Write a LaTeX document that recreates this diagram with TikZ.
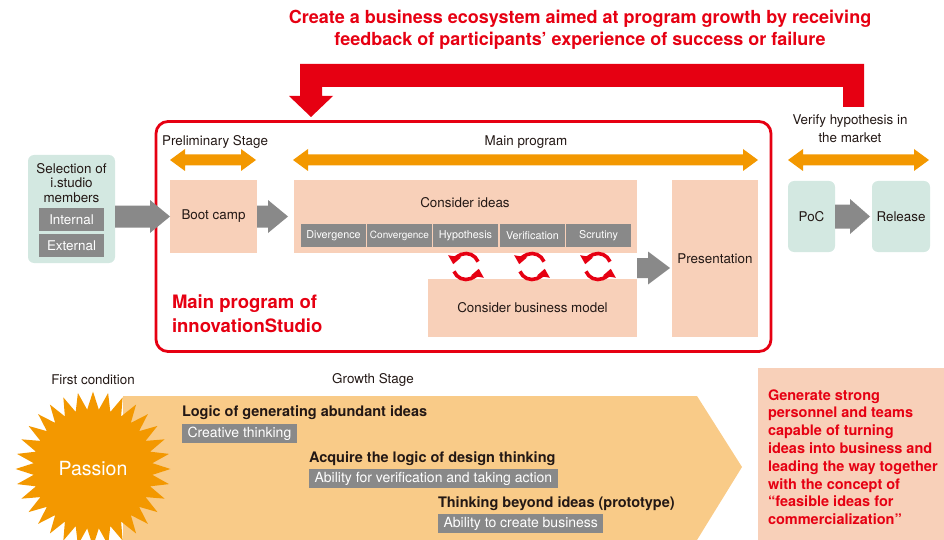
\documentclass[tikz,border=0pt]{standalone}
\usepackage{fontspec}
\setmainfont{TeX Gyre Heros}
\usetikzlibrary{arrows.meta,calc,shapes.geometric}
\definecolor{ired}{HTML}{E60012}
\definecolor{iorange}{HTML}{F39800}
\definecolor{lorange}{HTML}{F9CB88}
\definecolor{salmon}{HTML}{F8D0B9}
\definecolor{iteal}{HTML}{D3E8E1}
\definecolor{agray}{HTML}{898989}
\definecolor{txt}{HTML}{231815}
\newcommand\fs[2]{\fontsize{#1}{#2}\selectfont}
\newcommand\garrow[5]{\fill[agray] let \p1=(#1), \p2=(#2) in
  (\x1,\y2+#3) -- (\x2-#5,\y2+#3) -- (\x2-#5,\y2+#4) -- (\x2,\y2) --
  (\x2-#5,\y2-#4) -- (\x2-#5,\y2-#3) -- (\x1,\y2-#3) -- cycle;}
\newcommand\dblarrow[3]{\fill[iorange] (#1,#3) -- (#1+15,#3-11) -- (#1+15,#3-5.5) --
  (#2-15,#3-5.5) -- (#2-15,#3-11) -- (#2,#3) -- (#2-15,#3+11) -- (#2-15,#3+5.5) --
  (#1+15,#3+5.5) -- (#1+15,#3+11) -- cycle;}
\begin{document}
\begin{tikzpicture}[x=1pt,y=-1pt,
  every node/.style={inner sep=0pt,outer sep=0pt,text=txt,font=\fs{13.4}{16}},
  sbox/.style={fill=salmon},
  tbox/.style={fill=iteal,rounded corners=6pt},
  stagebox/.style={fill=agray,minimum width=65pt,minimum height=23pt,text=white,font=\fs{10.8}{12}},
  selbox/.style={fill=agray,minimum width=65pt,minimum height=23pt,text=white,font=\fs{13.4}{15}},
  glabel/.style={fill=agray,text=white,font=\fs{14}{15},inner xsep=5.5pt,minimum height=19pt,anchor=west},
  head/.style={font=\bfseries\fs{14.5}{16},anchor=west},
  cycline/.style={draw=ired,line width=3.6pt,-{Triangle[width=12.5pt,length=8pt]}}]
\useasboundingbox (0,0) rectangle (944,540);

% title
\node[text=ired,font=\bfseries\fs{18}{22},align=center] (title) at (580,30)
  {Create a business ecosystem aimed at program growth by receiving\\feedback of participants’ experience of success or failure};

% feedback arrow
\fill[ired] (843,107) -- (843,87) -- (322,87) -- (322,96) -- (333,96) -- (311,117)
  -- (289,96) -- (300,96) -- (300,64) -- (864,64) -- (864,107) -- cycle;

% main program frame
\node[draw=ired,line width=2.8pt,rounded corners=12pt,minimum width=615pt,minimum height=230pt] (main) at (463.5,236.5) {};

% stage labels and spans
\node (prelim) at (215,142) {Preliminary Stage};
\node (mainprog) at (526,142) {Main program};
\node[align=center,font=\fs{13.4}{18}] (verify) at (850,129) {Verify hypothesis in\\the market};
\dblarrow{170}{256}{160}
\dblarrow{293}{758}{160}
\dblarrow{788}{929}{160}

% selection
\node[tbox,minimum width=87pt,minimum height=108pt] (sel) at (71.5,209) {};
\node[align=center,font=\fs{13.4}{14.5}] (seltxt) at (71.5,183) {Selection of\\i.studio\\members};
\node[selbox] (internal) at (71.5,219.5) {Internal};
\node[selbox] (external) at (71.5,245.5) {External};

% boxes
\node[sbox,minimum width=87pt,minimum height=73pt] (boot) at (213.5,216.5) {Boot camp};
\node[sbox,minimum width=343pt,minimum height=73pt] (ideas) at (465.5,216.5) {};
\node (ideastxt) at (465,203) {Consider ideas};
\node[stagebox] (div) at (333.5,235.5) {Divergence};
\node[stagebox,font=\fs{10}{12}] (conv) at (399.5,235.5) {Convergence};
\node[stagebox] (hyp) at (465.5,235.5) {Hypothesis};
\node[stagebox] (ver) at (532.5,235.5) {Verification};
\node[stagebox] (scr) at (598.5,235.5) {Scrutiny};
\node[sbox,minimum width=209pt,minimum height=58pt] (bm) at (532.5,308) {Consider business model};
\node[sbox,minimum width=86pt,minimum height=157pt] (pres) at (715,258.5) {Presentation};
\node[tbox,minimum width=47pt,minimum height=71pt] (poc) at (811.5,216.5) {PoC};
\node[tbox,minimum width=58pt,minimum height=71pt] (release) at (901,216.5) {Release};

\node[text=ired,font=\bfseries\fs{18.5}{24},align=left,anchor=west] (mpi) at (172,314)
  {Main program of\\innovationStudio};

% gray block arrows
\garrow{sel.east}{boot.west}{11pt}{16.5pt}{20pt}
\garrow{boot.east}{$(ideas.west)+(-6,0)$}{11pt}{16.5pt}{20pt}
\coordinate (pa) at (637,268);
\garrow{pa}{$(pres.west|-pa)+(-2,0)$}{10pt}{16.5pt}{22pt}
\garrow{poc.east}{$(release.west)+(-2,0)$}{12pt}{17.5pt}{20pt}

% cycles
\foreach \cx/\nm in {466/c1,532/c2,598/c3}{
  \coordinate (\nm) at (\cx,266.5);
  \draw[cycline] ($(\nm)+(-22:13)$) arc (-22:-170:13);
  \draw[cycline] ($(\nm)+(158:13)$) arc (158:10:13);
}

% growth stage
\node (first) at (93,380) {First condition};
\node (growth) at (373,380) {Growth Stage};
\fill[lorange] (123,396) -- (697,396) -- (742,467) -- (697,540) -- (123,540) -- cycle;
\node[star,star points=32,star point ratio=1.3,fill=iorange,minimum size=155pt,text=white,font=\fs{19.5}{22}] (passion) at (93,469) {Passion};

\node[head] (h1) at (182,413) {Logic of generating abundant ideas};
\node[glabel] (g1) at (182,433.5) {Creative thinking};
\node[head] (h2) at (309,459) {Acquire the logic of design thinking};
\node[glabel] (g2) at (309,478.5) {Ability for verification and taking action};
\node[head] (h3) at (438,504) {Thinking beyond ideas (prototype)};
\node[glabel] (g3) at (438,523.5) {Ability to create business};

% goal box
\node[sbox,minimum width=186pt,minimum height=172pt] (goal) at (851,454) {};
\node[text=ired,font=\bfseries\fs{14.5}{17.8},align=left,anchor=west] (goaltxt) at (768,457)
  {Generate strong\\personnel and teams\\capable of turning\\ideas into business and\\leading the way together\\with the concept of\\“feasible ideas for\\commercialization”};
\end{tikzpicture}
\end{document}
